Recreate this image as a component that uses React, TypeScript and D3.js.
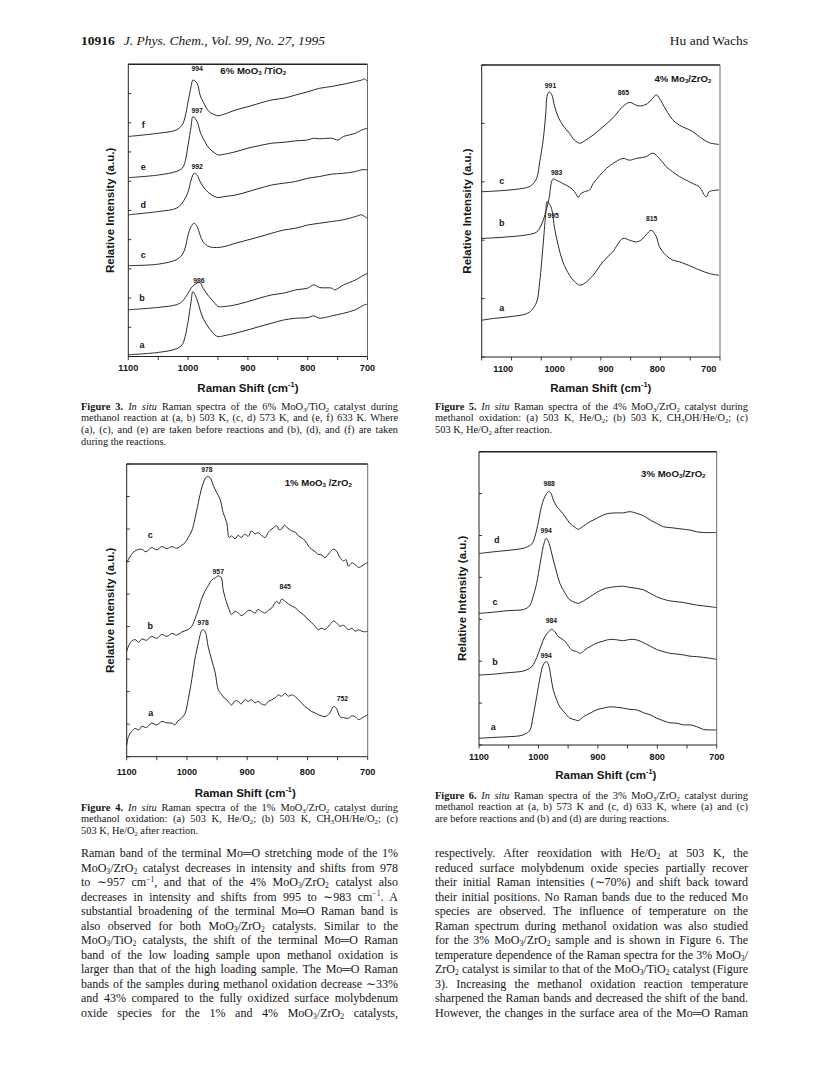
import React, { useEffect, useRef } from 'react';
import * as d3 from 'd3';

type Pt = [number, number];
type Lab = { t: string; w: number; u: number; k: 'peak' | 'letter' | 'title' };

// ---------------- Figure 3 : 6% MoO3/TiO2 ----------------
const fig3A: Pt[] = [[1100,0.06],[1050,0.14],[1020,0.26],[1010,0.40],[1005,0.68],[1000,1.20],[995,1.88],[992,2.22],[985,1.94],[980,1.60],[975,1.31],[965,0.97],[955,0.74],[950,0.68],[940,0.71],[920,0.80],[900,0.91],[880,1.03],[860,1.14],[840,1.25],[820,1.31],[800,1.33],[790,1.39],[780,1.31],[760,1.39],[740,1.48],[720,1.60],[705,1.77],[700,1.79]];
const fig3B: Pt[] = [[1100,1.60],[1050,1.68],[1020,1.77],[1010,1.88],[1000,2.17],[995,2.34],[990,2.45],[985,2.51],[980,2.53],[975,2.34],[965,2.05],[955,1.82],[950,1.71],[940,1.71],[920,1.77],[900,1.88],[880,2.00],[860,2.11],[840,2.17],[820,2.28],[800,2.34],[790,2.45],[780,2.36],[760,2.34],[755,2.28],[740,2.45],[720,2.62],[710,2.74],[700,2.85]];
const fig3C: Pt[] = [[1100,3.11],[1050,3.16],[1020,3.31],[1010,3.48],[1005,3.71],[1000,4.16],[995,4.45],[990,4.56],[985,4.45],[980,4.16],[975,3.93],[965,3.76],[955,3.73],[950,3.73],[940,3.76],[920,3.88],[900,3.99],[880,4.10],[860,4.22],[840,4.33],[820,4.39],[800,4.50],[780,4.56],[760,4.62],[740,4.68],[720,4.79],[710,4.85],[705,4.79],[700,4.73]];
const fig3D: Pt[] = [[1100,4.85],[1050,4.96],[1020,5.07],[1010,5.25],[1000,5.64],[995,6.04],[990,6.27],[985,6.21],[980,5.99],[975,5.82],[965,5.59],[955,5.47],[950,5.44],[940,5.47],[920,5.53],[900,5.64],[880,5.76],[860,5.87],[840,5.93],[820,5.99],[800,6.10],[780,6.16],[760,6.24],[740,6.27],[720,6.33],[710,6.39],[700,6.39]];
const fig3E: Pt[] = [[1100,6.12],[1050,6.21],[1020,6.33],[1010,6.44],[1005,6.67],[1000,7.24],[995,7.87],[992,8.21],[985,8.04],[980,7.70],[975,7.47],[965,7.13],[955,6.96],[950,6.90],[940,6.92],[920,7.01],[900,7.13],[880,7.22],[860,7.30],[840,7.33],[820,7.38],[800,7.41],[790,7.47],[780,7.45],[760,7.47],[750,7.41],[740,7.53],[720,7.64],[710,7.75],[700,7.81]];
const fig3F: Pt[] = [[1100,7.53],[1050,7.64],[1020,7.75],[1010,7.92],[1005,8.21],[1000,8.72],[995,9.24],[992,9.46],[985,9.35],[980,8.95],[975,8.72],[965,8.38],[955,8.27],[950,8.24],[940,8.29],[920,8.44],[900,8.55],[880,8.67],[860,8.78],[840,8.84],[820,8.95],[800,9.06],[780,9.18],[760,9.24],[740,9.32],[720,9.41],[710,9.46],[705,9.50],[700,9.41]];
const fig3Labels: Lab[] = [
  { t: '994', w: 985, u: 9.88, k: 'peak' }, { t: '997', w: 985, u: 8.43, k: 'peak' },
  { t: '992', w: 985, u: 6.51, k: 'peak' }, { t: '986', w: 982, u: 2.62, k: 'peak' },
  { t: 'f', w: 1075, u: 7.91, k: 'letter' }, { t: 'e', w: 1075, u: 6.48, k: 'letter' },
  { t: 'd', w: 1075, u: 5.2, k: 'letter' }, { t: 'c', w: 1075, u: 3.47, k: 'letter' },
  { t: 'b', w: 1077, u: 2.00, k: 'letter' }, { t: 'a', w: 1077, u: 0.39, k: 'letter' },
  { t: '6% MoO_3 /TiO_2', w: 891, u: 9.79, k: 'title' },
];

// ---------------- Figure 5 : 4% MoO3/ZrO2 ----------------
const fig5C: Pt[] = [[1142,2.83],[1119,2.84],[1087,2.86],[1055,2.90],[1045,2.94],[1035,3.06],[1029,3.34],[1022,3.74],[1017,4.20],[1015,4.46],[1011,4.54],[1006,4.50],[1000,4.29],[993,4.11],[984,3.97],[971,3.83],[961,3.71],[951,3.66],[942,3.70],[925,3.80],[906,3.94],[887,4.09],[867,4.29],[854,4.36],[841,4.31],[832,4.30],[819,4.34],[809,4.43],[802,4.49],[796,4.43],[783,4.23],[770,4.06],[757,3.97],[731,3.86],[718,3.77],[699,3.67],[680,3.64]];
const fig5B: Pt[] = [[1142,2.03],[1119,2.04],[1087,2.06],[1055,2.09],[1035,2.14],[1026,2.26],[1017,2.49],[1011,2.71],[1006,3.00],[1003,3.05],[997,3.03],[990,3.00],[984,2.97],[971,2.91],[961,2.83],[954,2.73],[951,2.78],[942,2.83],[932,2.86],[925,2.97],[912,3.11],[899,3.23],[887,3.31],[867,3.40],[854,3.37],[841,3.40],[822,3.43],[809,3.49],[796,3.40],[783,3.26],[770,3.17],[757,3.09],[731,2.97],[718,2.91],[705,2.74],[699,2.83],[680,2.86]];
const fig5A: Pt[] = [[1142,0.63],[1119,0.66],[1087,0.69],[1055,0.74],[1045,0.80],[1035,0.94],[1029,1.29],[1022,1.97],[1017,2.49],[1015,2.66],[1011,2.63],[1006,2.54],[1000,2.20],[993,1.91],[984,1.63],[971,1.40],[961,1.29],[951,1.23],[942,1.26],[925,1.40],[906,1.63],[887,1.80],[867,2.03],[854,2.00],[841,1.97],[832,2.00],[822,2.09],[812,2.17],[802,2.06],[796,1.89],[783,1.74],[770,1.66],[757,1.63],[731,1.54],[718,1.49],[699,1.43],[680,1.40]];
const fig5Labels: Lab[] = [
  { t: '991', w: 1008, u: 4.66, k: 'peak' }, { t: '865', w: 866, u: 4.53, k: 'peak' },
  { t: '983', w: 996, u: 3.17, k: 'peak' }, { t: '995', w: 1003, u: 2.44, k: 'peak' },
  { t: '815', w: 811, u: 2.38, k: 'peak' },
  { t: 'c', w: 1103, u: 3.01, k: 'letter' }, { t: 'b', w: 1103, u: 2.29, k: 'letter' },
  { t: 'a', w: 1103, u: 0.84, k: 'letter' },
  { t: '4% Mo_3/ZrO_2', w: 750, u: 4.77, k: 'title' },
];
const fig5TickMarks = [1142, 1084, 1026, 968, 910, 852, 794, 736, 678];

// ---------------- Figure 4 : 1% MoO3/ZrO2 ----------------
const fig4C: Pt[] = [[1100,5.97],[1097,6.07],[1092,6.22],[1086,6.33],[1075,6.38],[1068,6.30],[1059,6.43],[1050,6.36],[1042,6.46],[1033,6.40],[1025,6.46],[1017,6.41],[1009,6.50],[1003,6.58],[998,6.74],[992,6.94],[987,7.30],[981,7.82],[976,8.23],[970,8.54],[966,8.62],[962,8.59],[956,8.33],[951,8.13],[945,7.92],[940,7.51],[934,7.20],[930,6.74],[926,6.79],[920,6.70],[915,6.81],[910,6.74],[904,6.84],[898,6.78],[893,6.94],[887,6.85],[882,6.89],[876,6.80],[870,6.74],[865,6.90],[859,7.00],[851,7.10],[847,6.98],[843,7.00],[838,7.12],[834,7.05],[826,6.94],[820,6.90],[815,6.79],[809,6.72],[804,6.64],[798,6.47],[793,6.38],[787,6.30],[782,6.22],[776,6.20],[771,6.12],[763,6.28],[757,6.38],[752,6.33],[746,6.12],[740,6.02],[736,6.06],[732,5.86],[726,5.96],[721,5.91],[715,5.82],[710,5.86],[705,5.92],[700,5.97]];
const fig4B: Pt[] = [[1100,3.24],[1097,3.40],[1092,3.55],[1086,3.60],[1080,3.52],[1075,3.62],[1067,3.58],[1059,3.70],[1050,3.64],[1042,3.76],[1033,3.70],[1025,3.79],[1017,3.74],[1009,3.83],[998,3.91],[992,4.01],[987,4.22],[981,4.53],[976,4.84],[970,5.09],[965,5.25],[959,5.43],[953,5.50],[948,5.56],[943,5.50],[940,5.14],[934,4.73],[930,4.53],[926,4.37],[920,4.47],[915,4.42],[910,4.34],[904,4.40],[898,4.50],[893,4.48],[887,4.41],[882,4.53],[876,4.46],[870,4.42],[865,4.50],[859,4.58],[851,4.78],[847,4.70],[843,4.84],[837,4.78],[832,4.70],[826,4.63],[820,4.58],[815,4.48],[809,4.40],[804,4.32],[798,4.20],[793,4.12],[787,4.00],[782,3.91],[776,3.95],[771,3.91],[763,4.06],[757,4.17],[752,4.12],[746,4.01],[740,4.04],[732,3.91],[726,3.95],[721,3.86],[715,3.90],[710,3.86],[705,3.84],[700,3.86]];
const fig4A: Pt[] = [[1100,0.36],[1097,0.62],[1092,0.77],[1086,0.87],[1080,0.82],[1075,0.93],[1067,0.90],[1059,1.03],[1050,0.98],[1042,1.08],[1033,1.04],[1025,1.03],[1020,0.98],[1015,1.10],[1009,1.18],[1003,1.34],[998,1.75],[992,2.37],[987,2.98],[981,3.50],[976,3.86],[973,3.91],[969,3.81],[965,3.40],[959,2.98],[953,2.57],[948,2.06],[942,1.90],[938,1.80],[934,1.75],[930,1.66],[926,1.59],[920,1.72],[915,1.70],[910,1.62],[904,1.75],[898,1.70],[893,1.75],[887,1.66],[882,1.70],[876,1.62],[870,1.59],[865,1.70],[859,1.75],[853,1.82],[848,1.90],[843,1.86],[837,1.95],[832,1.86],[826,1.90],[820,1.84],[815,1.75],[809,1.64],[804,1.54],[798,1.46],[793,1.39],[787,1.34],[782,1.29],[776,1.25],[771,1.23],[763,1.34],[757,1.54],[752,1.49],[746,1.23],[740,1.20],[732,1.18],[726,1.26],[721,1.23],[715,1.14],[710,1.18],[705,1.24],[700,1.29]];
const fig4Labels: Lab[] = [
  { t: '978', w: 967, u: 8.85, k: 'peak' }, { t: '957', w: 948, u: 5.71, k: 'peak' },
  { t: '845', w: 837, u: 5.25, k: 'peak' }, { t: '978', w: 973, u: 4.13, k: 'peak' },
  { t: '752', w: 742, u: 1.80, k: 'peak' },
  { t: 'c', w: 1061, u: 6.81, k: 'letter' }, { t: 'b', w: 1061, u: 4.01, k: 'letter' },
  { t: 'a', w: 1060, u: 1.34, k: 'letter' },
  { t: '1% MoO_3 /ZrO_2', w: 782, u: 8.44, k: 'title' },
];

// ---------------- Figure 6 : 3% MoO3/ZrO2 ----------------
const fig6D: Pt[] = [[1100,4.57],[1076,4.61],[1048,4.65],[1031,4.68],[1020,4.72],[1011,4.80],[1006,4.97],[1000,5.33],[995,5.69],[989,5.93],[983,6.05],[979,6.01],[975,5.85],[969,5.69],[964,5.61],[955,5.45],[947,5.29],[938,5.19],[933,5.15],[924,5.23],[913,5.33],[902,5.41],[891,5.49],[880,5.53],[868,5.54],[857,5.54],[846,5.57],[835,5.53],[823,5.47],[812,5.37],[801,5.29],[790,5.21],[779,5.19],[767,5.17],[756,5.15],[745,5.13],[734,5.09],[722,5.07],[711,5.07],[700,5.07]];
const fig6C: Pt[] = [[1100,3.14],[1076,3.17],[1048,3.21],[1031,3.22],[1020,3.26],[1014,3.34],[1009,3.54],[1003,3.86],[997,4.34],[992,4.73],[987,4.93],[983,4.85],[979,4.65],[975,4.42],[969,4.10],[964,3.86],[955,3.62],[947,3.46],[938,3.40],[933,3.38],[924,3.44],[913,3.54],[902,3.64],[891,3.72],[880,3.76],[868,3.78],[857,3.79],[846,3.76],[835,3.74],[823,3.70],[812,3.62],[801,3.54],[790,3.48],[779,3.44],[767,3.42],[756,3.40],[745,3.37],[734,3.34],[722,3.32],[711,3.30],[700,3.28]];
const fig6B: Pt[] = [[1100,1.67],[1076,1.69],[1048,1.73],[1031,1.75],[1020,1.79],[1011,1.87],[1006,1.99],[1000,2.19],[995,2.39],[989,2.59],[983,2.70],[978,2.76],[972,2.70],[967,2.59],[958,2.51],[953,2.43],[944,2.27],[936,2.23],[929,2.19],[922,2.27],[913,2.35],[902,2.43],[891,2.48],[880,2.52],[868,2.51],[857,2.49],[846,2.52],[835,2.51],[823,2.44],[812,2.36],[801,2.28],[790,2.23],[779,2.19],[767,2.17],[756,2.15],[745,2.12],[734,2.11],[722,2.09],[711,2.07],[700,2.04]];
const fig6A: Pt[] = [[1100,0.16],[1076,0.18],[1048,0.20],[1031,0.22],[1020,0.28],[1014,0.36],[1009,0.68],[1003,1.15],[997,1.63],[992,1.91],[987,1.99],[983,1.91],[979,1.63],[975,1.31],[969,1.07],[964,0.91],[955,0.76],[947,0.64],[938,0.60],[933,0.58],[924,0.68],[913,0.76],[902,0.84],[891,0.88],[880,0.91],[868,0.90],[857,0.88],[846,0.85],[835,0.84],[823,0.77],[812,0.72],[801,0.64],[790,0.58],[779,0.53],[767,0.52],[756,0.48],[745,0.48],[734,0.44],[722,0.37],[711,0.36],[700,0.36]];
const fig6Labels: Lab[] = [
  { t: '988', w: 982, u: 6.25, k: 'peak' }, { t: '994', w: 987, u: 5.13, k: 'peak' },
  { t: '984', w: 978, u: 2.98, k: 'peak' }, { t: '994', w: 987, u: 2.15, k: 'peak' },
  { t: 'd', w: 1070, u: 4.89, k: 'letter' }, { t: 'c', w: 1073, u: 3.42, k: 'letter' },
  { t: 'b', w: 1073, u: 1.99, k: 'letter' }, { t: 'a', w: 1076, u: 0.44, k: 'letter' },
  { t: '3% MoO_3/ZrO_2', w: 773, u: 6.48, k: 'title' },
];

const stdTickMarks = [1100, 1050, 1000, 950, 900, 850, 800, 750, 700];
const stdTickLabels = [1100, 1000, 900, 800, 700];

// ---------------- Text ----------------
const headerLeftNum = '10916';
const headerJournal = 'J. Phys. Chem., Vol. 99, No. 27, 1995';
const headerRight = 'Hu and Wachs';
const xAxisTitle = 'Raman Shift (cm^{-1})';
const yAxisTitle = 'Relative Intensity (a.u.)';

const fig3Caption = [
  '<b>Figure 3.</b> <i>In situ</i> Raman spectra of the 6% MoO_3/TiO_2 catalyst during',
  'methanol reaction at (a, b) 503 K, (c, d) 573 K, and (e, f) 633 K. Where',
  '(a), (c), and (e) are taken before reactions and (b), (d), and (f) are taken',
  'during the reactions.',
];
const fig5Caption = [
  '<b>Figure 5.</b> <i>In situ</i> Raman spectra of the 4% MoO_3/ZrO_2 catalyst during',
  'methanol oxidation: (a) 503 K, He/O_2; (b) 503 K, CH_3OH/He/O_2; (c)',
  '503 K, He/O_2 after reaction.',
];
const fig4Caption = [
  '<b>Figure 4.</b> <i>In situ</i> Raman spectra of the 1% MoO_3/ZrO_2 catalyst during',
  'methanol oxidation: (a) 503 K, He/O_2; (b) 503 K, CH_3OH/He/O_2; (c)',
  '503 K, He/O_2 after reaction.',
];
const fig6Caption = [
  '<b>Figure 6.</b> <i>In situ</i> Raman spectra of the 3% MoO_3/ZrO_2 catalyst during',
  'methanol reaction at (a, b) 573 K and (c, d) 633 K, where (a) and (c)',
  'are before reactions and (b) and (d) are during reactions.',
];
const bodyLeft = [
  'Raman band of the terminal Mo═O stretching mode of the 1%',
  'MoO_3/ZrO_2 catalyst decreases in intensity and shifts from 978',
  'to ∼957 cm^{−1}, and that of the 4% MoO_3/ZrO_2 catalyst also',
  'decreases in intensity and shifts from 995 to ∼983 cm^{−1}. A',
  'substantial broadening of the terminal Mo═O Raman band is',
  'also observed for both MoO_3/ZrO_2 catalysts. Similar to the',
  'MoO_3/TiO_2 catalysts, the shift of the terminal Mo═O Raman',
  'band of the low loading sample upon methanol oxidation is',
  'larger than that of the high loading sample. The Mo═O Raman',
  'bands of the samples during methanol oxidation decrease ∼33%',
  'and 43% compared to the fully oxidized surface molybdenum',
  'oxide species for the 1% and 4% MoO_3/ZrO_2 catalysts,',
];
const bodyRight = [
  'respectively. After reoxidation with He/O_2 at 503 K, the',
  'reduced surface molybdenum oxide species partially recover',
  'their initial Raman intensities (∼70%) and shift back toward',
  'their initial positions. No Raman bands due to the reduced Mo',
  'species are observed. The influence of temperature on the',
  'Raman spectrum during methanol oxidation was also studied',
  'for the 3% MoO_3/ZrO_2 sample and is shown in Figure 6. The',
  'temperature dependence of the Raman spectra for the 3% MoO_3/',
  'ZrO_2 catalyst is similar to that of the MoO_3/TiO_2 catalyst (Figure',
  '3). Increasing the methanol oxidation reaction temperature',
  'sharpened the Raman bands and decreased the shift of the band.',
  'However, the changes in the surface area of the Mo═O Raman',
];

// ---------------- helpers ----------------
const SERIF = "'Liberation Serif', 'Times New Roman', serif";
const SANS = "'Liberation Sans', Arial, Helvetica, sans-serif";
const INK = '#151515';

type Seg = { t: string; b: boolean; i: boolean; s: number };
function parseRich(src: string): Seg[] {
  const out: Seg[] = [];
  let b = false, it = false, buf = '';
  const flush = () => { if (buf) { out.push({ t: buf, b, i: it, s: 0 }); buf = ''; } };
  let k = 0;
  while (k < src.length) {
    if (src.startsWith('<b>', k)) { flush(); b = true; k += 3; }
    else if (src.startsWith('</b>', k)) { flush(); b = false; k += 4; }
    else if (src.startsWith('<i>', k)) { flush(); it = true; k += 3; }
    else if (src.startsWith('</i>', k)) { flush(); it = false; k += 4; }
    else if (src[k] === '_' || src[k] === '^') {
      flush();
      const s = src[k] === '_' ? 1 : -1;
      let t = '';
      if (src[k + 1] === '{') { const e = src.indexOf('}', k); t = src.slice(k + 2, e); k = e + 1; }
      else { t = src[k + 1]; k += 2; }
      out.push({ t, b, i: it, s });
    } else { buf += src[k]; k++; }
  }
  flush();
  return out;
}

function Rich({ src, fs }: { src: string; fs: number }) {
  const segs = parseRich(src);
  let cur = 0;
  return (
    <>
      {segs.map((sg, idx) => {
        const target = sg.s === 1 ? fs * 0.2 : sg.s === -1 ? -fs * 0.36 : 0;
        const dy = target - cur;
        cur = target;
        return (
          <tspan key={idx} dy={dy !== 0 ? dy : undefined}
            fontWeight={sg.b ? 'bold' : undefined}
            fontStyle={sg.i ? 'italic' : undefined}
            fontSize={sg.s ? fs * 0.64 : undefined}>{sg.t}</tspan>
        );
      })}
    </>
  );
}

function TextBlock({ lines, x, w, y0, lh, fs, justifyLast }: { lines: string[]; x: number; w: number; y0: number; lh: number; fs: number; justifyLast: boolean }) {
  return (
    <g fontFamily={SERIF} fontSize={fs} fill={INK}>
      {lines.map((ln, i) => {
        const just = justifyLast || i < lines.length - 1;
        return (
          <text key={i} x={x} y={y0 + i * lh} data-jw={just ? w : undefined}>
            <Rich src={ln} fs={fs} />
          </text>
        );
      })}
    </g>
  );
}

type PanelCfg = {
  frame: { l: number; r: number; t: number; b: number };
  xDomain: [number, number];
  yDomain: [number, number];
  yTicks: number[];
  xTickMarks: number[];
  xTickLabels: number[];
  series: Pt[][];
  labels: Lab[];
  tickDy: number;
  xTitleDy: number;
  xTitleDx: number;
  yTitleDx: number;
};

function Panel({ cfg }: { cfg: PanelCfg }) {
  const { l, r, t, b } = cfg.frame;
  const x = d3.scaleLinear().domain(cfg.xDomain).range([l, r]);
  const y = d3.scaleLinear().domain(cfg.yDomain).range([b, t]);
  const line = d3.line<Pt>().x(d => x(d[0])).y(d => y(d[1])).curve(d3.curveCatmullRom.alpha(0.5));
  const fsFor = (k: string) => (k === 'peak' ? 6.8 : k === 'letter' ? 9 : 9.6);
  return (
    <g>
      {cfg.series.map((s, i) => (
        <path key={i} d={line(s) || ''} fill="none" stroke="#2a2a2a" strokeWidth={1} strokeLinejoin="round" />
      ))}
      <line x1={l} x2={r} y1={t} y2={t} stroke="#222" strokeWidth={1.4} />
      <line x1={l} x2={r} y1={b} y2={b} stroke="#222" strokeWidth={1} />
      <line x1={l} x2={l} y1={t} y2={b} stroke="#222" strokeWidth={1} />
      <line x1={r} x2={r} y1={t} y2={b} stroke="#444" strokeWidth={0.8} />
      {cfg.yTicks.map(v => (
        <line key={'y' + v} x1={l} x2={l + 3} y1={y(v)} y2={y(v)} stroke="#222" strokeWidth={0.9} />
      ))}
      {cfg.xTickMarks.map(v => (
        <line key={'x' + v} x1={x(v)} x2={x(v)} y1={b} y2={b + 3.5} stroke="#222" strokeWidth={0.9} />
      ))}
      <g fontFamily={SANS} fontWeight="bold" fill={INK}>
        {cfg.xTickLabels.map(v => (
          <text key={'xl' + v} x={x(v)} y={b + cfg.tickDy} fontSize={9.2} textAnchor="middle" dominantBaseline="central">{v}</text>
        ))}
        <text x={(l + r) / 2 + cfg.xTitleDx} y={b + cfg.xTitleDy} fontSize={11.5} textAnchor="middle" dominantBaseline="central">
          <Rich src={xAxisTitle} fs={11.5} />
        </text>
        <text transform={`translate(${l + cfg.yTitleDx},${(t + b) / 2}) rotate(-90)`} fontSize={11.5} textAnchor="middle" dominantBaseline="central">
          {yAxisTitle}
        </text>
        {cfg.labels.map((lb, i) => (
          <text key={'lb' + i} x={x(lb.w)} y={y(lb.u)} fontSize={fsFor(lb.k)} textAnchor="middle" dominantBaseline="central">
            <Rich src={lb.t} fs={fsFor(lb.k)} />
          </text>
        ))}
      </g>
    </g>
  );
}

const fig3Cfg: PanelCfg = {
  frame: { l: 128.3, r: 367.5, t: 64.3, b: 356.5 }, xDomain: [1100, 700], yDomain: [0, 10],
  yTicks: [0, 1, 2, 3, 4, 5, 6, 7, 8, 9, 10], xTickMarks: stdTickMarks, xTickLabels: stdTickLabels,
  series: [fig3A, fig3B, fig3C, fig3D, fig3E, fig3F], labels: fig3Labels,
  tickDy: 11.7, xTitleDy: 31.5, xTitleDx: 0, yTitleDx: -18.3,
};
const fig5Cfg: PanelCfg = {
  frame: { l: 481.7, r: 720, t: 65, b: 357 }, xDomain: [1142, 678], yDomain: [0, 5],
  yTicks: [0, 1, 2, 3, 4, 5], xTickMarks: fig5TickMarks, xTickLabels: stdTickLabels,
  series: [fig5A, fig5B, fig5C], labels: fig5Labels,
  tickDy: 11.5, xTitleDy: 31.3, xTitleDx: 0, yTitleDx: -15,
};
const fig4Cfg: PanelCfg = {
  frame: { l: 126.7, r: 367.7, t: 464, b: 756.7 }, xDomain: [1100, 700], yDomain: [0, 9],
  yTicks: [0, 1, 2, 3, 4, 5, 6, 7, 8, 9], xTickMarks: stdTickMarks, xTickLabels: stdTickLabels,
  series: [fig4A, fig4B, fig4C], labels: fig4Labels,
  tickDy: 15, xTitleDy: 36.3, xTitleDx: -2, yTitleDx: -16.7,
};
const fig6Cfg: PanelCfg = {
  frame: { l: 479, r: 716.7, t: 451.7, b: 745 }, xDomain: [1100, 700], yDomain: [0, 7],
  yTicks: [0, 1, 2, 3, 4, 5, 6, 7], xTickMarks: stdTickMarks, xTickLabels: stdTickLabels,
  series: [fig6A, fig6B, fig6C, fig6D], labels: fig6Labels,
  tickDy: 11.7, xTitleDy: 30, xTitleDx: 8, yTitleDx: -17,
};

const LX = 81, RX = 435, COLW_L = 317, COLW_R = 313;

export default function App() {
  const ref = useRef<SVGSVGElement>(null);
  useEffect(() => {
    if (!ref.current) return;
    d3.select(ref.current).selectAll<SVGTextElement, unknown>('text[data-jw]').each(function () {
      const el = this as SVGTextElement;
      const target = +(el.getAttribute('data-jw') || 0);
      el.style.wordSpacing = '0px';
      const nat = el.getComputedTextLength();
      const spaces = ((el.textContent || '').match(/ /g) || []).length;
      if (spaces > 0) el.style.wordSpacing = `${(target - nat) / spaces}px`;
    });
  }, []);
  return (
    <svg ref={ref} width={831} height={1075} viewBox="0 0 831 1075"
      style={{ position: 'absolute', left: 0, top: 0, background: '#fff' }}>
      <rect x={0} y={0} width={831} height={1075} fill="#fff" />
      <text x={LX} y={45} fontFamily={SERIF} fontSize={13.5} fill={INK}>
        <tspan fontWeight="bold">{headerLeftNum}</tspan>
        <tspan dx={9} fontStyle="italic">{headerJournal}</tspan>
      </text>
      <text x={RX + COLW_R} y={45} fontFamily={SERIF} fontSize={13.5} fill={INK} textAnchor="end">{headerRight}</text>

      <Panel cfg={fig3Cfg} />
      <Panel cfg={fig5Cfg} />
      <Panel cfg={fig4Cfg} />
      <Panel cfg={fig6Cfg} />

      <TextBlock lines={fig3Caption} x={LX} w={COLW_L} y0={409.5} lh={11.8} fs={10.4} justifyLast={false} />
      <TextBlock lines={fig5Caption} x={RX} w={COLW_R} y0={409.5} lh={11.8} fs={10.4} justifyLast={false} />
      <TextBlock lines={fig4Caption} x={LX} w={COLW_L} y0={810.5} lh={11.8} fs={10.4} justifyLast={false} />
      <TextBlock lines={fig6Caption} x={RX} w={COLW_R} y0={798.5} lh={11.8} fs={10.4} justifyLast={false} />
      <TextBlock lines={bodyLeft} x={LX} w={COLW_L} y0={857} lh={14.5} fs={12} justifyLast={true} />
      <TextBlock lines={bodyRight} x={RX} w={COLW_R} y0={857} lh={14.5} fs={12} justifyLast={true} />
    </svg>
  );
}
